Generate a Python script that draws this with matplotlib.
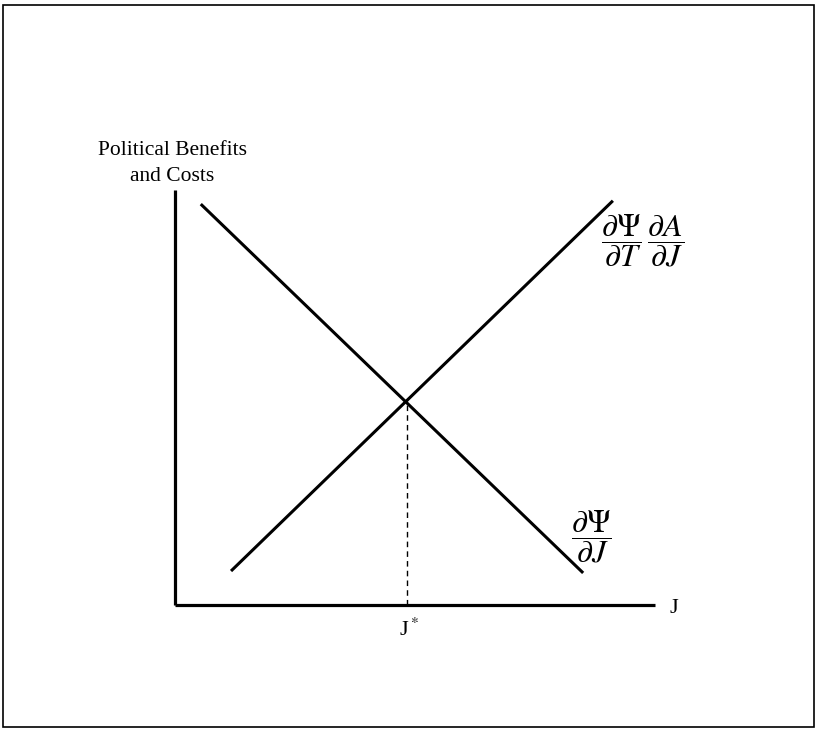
import matplotlib.pyplot as plt
from matplotlib.patches import Rectangle

plt.rcParams['font.family'] = 'Liberation Serif'
plt.rcParams['mathtext.fontset'] = 'stix'

# curve end points (economic diagram, arbitrary units)
mc_x = [1.19, 9.1]     # rising curve: dPsi/dT * dA/dJ
mc_y = [0.73, 8.4]
mb_x = [0.56, 8.48]    # falling curve: dPsi/dJ
mb_y = [8.33, 0.69]
j_star = 4.83
y_star = 4.27

fig = plt.figure(figsize=(8.17, 7.29), dpi=100)
ax = fig.add_axes([0, 0, 1, 1])
ax.set_xlim(-175 / 48, 642 / 48)
ax.set_ylim((605 - 729) / 48, 605 / 48)
ax.axis('off')

# outer frame
fig.patches.append(Rectangle((0.004, 0.003), 0.992, 0.99, transform=fig.transFigure,
                             fill=False, edgecolor='black', linewidth=1.2))

# axes
ax.plot([0, 0], [0, 8.65], color='black', lw=2.3, solid_capstyle='butt')
ax.plot([0, 10], [0, 0], color='black', lw=2.3, solid_capstyle='butt')

ax.plot(mc_x, mc_y, color='black', lw=2.2)
ax.plot(mb_x, mb_y, color='black', lw=2.2)
ax.plot([j_star, j_star], [0, y_star], color='black', lw=1.0, ls=(0, (4, 3)))

ax.text(-0.06, 9.2, 'Political Benefits\nand Costs', ha='center', va='center',
        fontsize=15.5, linespacing=1.45)
ax.text(10.3, -0.08, 'J', ha='left', va='center', fontsize=16)
ax.text(j_star + 0.05, -0.28, 'J$^*$', ha='center', va='top', fontsize=16)
ax.text(8.88, 7.6, r'$\dfrac{\partial\Psi}{\partial T}\,\dfrac{\partial A}{\partial J}$',
        ha='left', va='center', fontsize=23)
ax.text(8.25, 1.42, r'$\dfrac{\partial\Psi}{\partial J}$', ha='left', va='center', fontsize=23)

fig.savefig('out.png', dpi=100)
